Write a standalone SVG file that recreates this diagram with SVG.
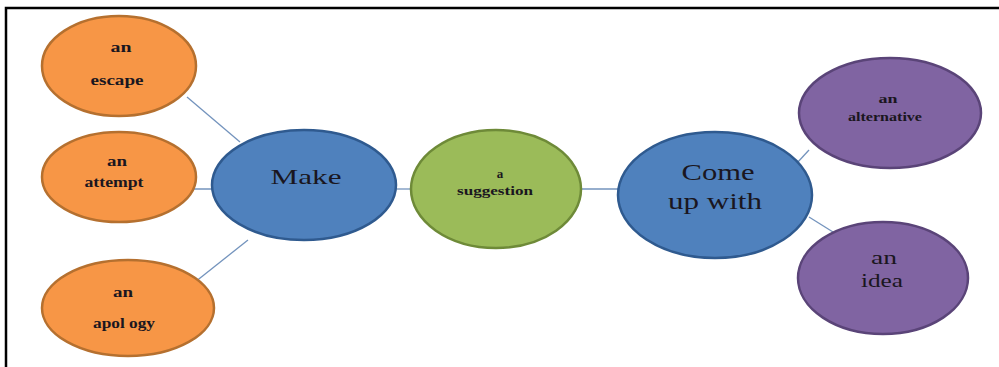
<svg xmlns="http://www.w3.org/2000/svg" width="999" height="367" viewBox="0 0 999 367">
<style>
.t{font-family:"Liberation Serif","Times New Roman",serif;fill:#1a1620;text-anchor:middle}
.s{font-size:15px;font-weight:bold}
.o{fill:#F79646;stroke:#B5702F;stroke-width:2.5}
.b{fill:#4F81BD;stroke:#2F5A8F;stroke-width:2.5}
.g{fill:#9BBB59;stroke:#6E8A38;stroke-width:2.5}
.p{fill:#8064A2;stroke:#5A4478;stroke-width:2.5}
.c{stroke:#7393BD;stroke-width:1.3;fill:none}
</style>
<rect x="0" y="0" width="999" height="367" fill="#fff"/>
<path d="M6 367 V8 H999" fill="none" stroke="#000" stroke-width="2.5"/>
<g id="connectors">
<line class="c" x1="187" y1="97" x2="240" y2="142"/>
<line class="c" x1="175" y1="189" x2="213" y2="189"/>
<line class="c" x1="185" y1="290" x2="248" y2="240"/>
<line class="c" x1="397" y1="189" x2="411" y2="189"/>
<line class="c" x1="582" y1="189" x2="620" y2="189"/>
<line class="c" x1="797" y1="163" x2="809" y2="150"/>
<line class="c" x1="809" y1="217" x2="833" y2="232"/>
</g>
<g id="escape">
<ellipse class="o" cx="119" cy="66" rx="77" ry="50"/>
<text class="t s" x="121" y="52" textLength="21" lengthAdjust="spacingAndGlyphs">an</text>
<text class="t s" x="117" y="85" textLength="53" lengthAdjust="spacingAndGlyphs">escape</text>
</g>
<g id="attempt">
<ellipse class="o" cx="119" cy="177" rx="77" ry="45"/>
<text class="t s" x="117" y="166" textLength="20" lengthAdjust="spacingAndGlyphs">an</text>
<text class="t s" x="114" y="187" textLength="59" lengthAdjust="spacingAndGlyphs">attempt</text>
</g>
<g id="apology">
<ellipse class="o" cx="128" cy="308" rx="86" ry="48"/>
<text class="t s" x="123" y="297" textLength="20" lengthAdjust="spacingAndGlyphs">an</text>
<text class="t s" x="124" y="328" textLength="62" lengthAdjust="spacingAndGlyphs">apol ogy</text>
</g>
<g id="make">
<ellipse class="b" cx="304" cy="185" rx="92" ry="55"/>
<text class="t" x="306" y="184" font-size="22" textLength="71" lengthAdjust="spacingAndGlyphs">Make</text>
</g>
<g id="suggestion">
<ellipse class="g" cx="496" cy="189" rx="85" ry="59"/>
<text class="t s" x="500" y="178" style="font-size:13px">a</text>
<text class="t s" x="495" y="195" style="font-size:13px" textLength="76" lengthAdjust="spacingAndGlyphs">suggestion</text>
</g>
<g id="comeupwith">
<ellipse class="b" cx="715" cy="195" rx="97" ry="63"/>
<text class="t" x="718" y="180" font-size="24" textLength="73" lengthAdjust="spacingAndGlyphs">Come</text>
<text class="t" x="715" y="209" font-size="24" textLength="94" lengthAdjust="spacingAndGlyphs">up with</text>
</g>
<g id="alternative">
<ellipse class="p" cx="890" cy="113" rx="91" ry="55"/>
<text class="t s" x="888" y="103" style="font-size:12px" textLength="19" lengthAdjust="spacingAndGlyphs">an</text>
<text class="t s" x="885" y="121" style="font-size:12px" textLength="74" lengthAdjust="spacingAndGlyphs">alternative</text>
</g>
<g id="idea">
<ellipse class="p" cx="883" cy="278" rx="85" ry="56"/>
<text class="t" x="884" y="264" font-size="19" textLength="26" lengthAdjust="spacingAndGlyphs">an</text>
<text class="t" x="882" y="287" font-size="19" textLength="42" lengthAdjust="spacingAndGlyphs">idea</text>
</g>
</svg>
